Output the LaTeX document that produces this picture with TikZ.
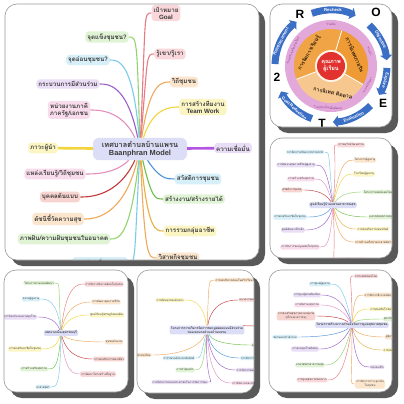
\documentclass[tikz,border=0pt]{standalone}
\usepackage{fontspec}
\setmainfont{Liberation Sans}
\newfontfamily\thai[Script=Thai]{Loma}
\usetikzlibrary{arrows.meta}
\definecolor{shadowc}{HTML}{595959}
\definecolor{cardline}{HTML}{9A9A9A}
\definecolor{txt}{HTML}{3A3A3A}
\definecolor{centerF}{HTML}{DCDDF6}
\definecolor{pinkF}{HTML}{F9D7DA}
\definecolor{pinkL}{HTML}{E57B84}
\definecolor{greenF}{HTML}{E0F3D5}
\definecolor{greenL}{HTML}{93D46E}
\definecolor{greenL2}{HTML}{6CC04A}
\definecolor{blueF}{HTML}{D7EFF8}
\definecolor{blueL}{HTML}{7CCBE8}
\definecolor{blueL2}{HTML}{4D93DB}
\definecolor{peachF}{HTML}{FBE5CC}
\definecolor{orangeL}{HTML}{F0A85C}
\definecolor{orangeL2}{HTML}{E8B040}
\definecolor{lavF}{HTML}{EADDF6}
\definecolor{purpL}{HTML}{9B5FCB}
\definecolor{purpL2}{HTML}{B455E0}
\definecolor{yellF}{HTML}{FBF5C4}
\definecolor{yellL}{HTML}{F2D53C}
\definecolor{roseF}{HTML}{F9DCEB}
\definecolor{roseL}{HTML}{E390BE}
\definecolor{redF}{HTML}{F8D4D0}
\definecolor{redL}{HTML}{C43A3A}
\definecolor{bluec}{HTML}{3B6FC6}
\definecolor{ringpink}{HTML}{E2A8DA}
\definecolor{orA}{HTML}{F0A445}
\definecolor{orB}{HTML}{EE9A35}
\definecolor{orC}{HTML}{F6C78E}
\definecolor{redc}{HTML}{E2322F}
\definecolor{ringtxt}{HTML}{8B3D8B}
\newcommand\latn[1]{{\rmfamily #1}}
\newcommand\mkcard[4]{\fill[shad] (#1+6,#2+6) rectangle (#3+6,#4+6); \fill[cardf] (#1,#2) rectangle (#3,#4);}
\newcommand\mkborder[4]{\draw[cardb] (#1,#2) rectangle (#3,#4);}
\begin{document}
\begin{tikzpicture}[x=1pt,y=-1pt,
  shad/.style={fill=shadowc, rounded corners=12pt},
  cardf/.style={fill=white, rounded corners=12pt},
  cardb/.style={draw=cardline, line width=0.6pt, rounded corners=12pt},
  cnode/.style={fill=centerF, rounded corners=6pt, inner sep=3pt, align=center, text=txt, font=\thai\bfseries\fontsize{7.4}{8.6}\selectfont},
  mb/.style={rounded corners=3.5pt, inner sep=2pt, align=center, text=txt, font=\thai\bfseries\fontsize{6.2}{7}\selectfont},
  ml/.style={line width=1.1pt},
  scn/.style={fill=centerF, rounded corners=2pt, inner sep=1.2pt, align=center, text=txt, font=\thai\bfseries\fontsize{3.2}{3.7}\selectfont},
  sb/.style={rounded corners=1.5pt, inner sep=0.9pt, align=center, text=txt, font=\thai\fontsize{2.8}{3.2}\selectfont},
  sl/.style={line width=0.45pt},
  barr/.style={draw=bluec, line width=7pt, -{Triangle[length=5pt,width=12pt]}},
  blab/.style={text=white, font=\bfseries\fontsize{4.3}{5}\selectfont, inner sep=0},
  letr/.style={text=black, font=\bfseries\fontsize{12}{12}\selectfont, inner sep=0},
  rlab/.style={text=ringtxt, font=\thai\fontsize{3}{3.4}\selectfont, inner sep=0},
  slab/.style={text=black!80!brown, font=\thai\bfseries\fontsize{5.3}{6}\selectfont, inner sep=0}]
\useasboundingbox[fill=white] (0,0) rectangle (404,404);

% ================= Panel A =================
\mkcard{5}{4}{259}{260}
\begin{scope}
\clip[rounded corners=12pt] (5,4) rectangle (259,260);
\node[cnode, minimum width=94pt, minimum height=22pt] (c0) at (140,149) {เทศบาลตำบลบ้านแพรน\\\latn{Baanphran Model}};
\foreach \nm/\px/\py/\fc/\lc/\an/\dd/\sx/\tx in {
 m1/166/13/pinkF/pinkL/west/-8/146/{เป้าหมาย\\\latn{Goal}},
 m2/107/37/greenF/greenL/east/8/137/{จุดแข็งชุมชน?},
 m3/170/54/pinkF/pinkL/west/-8/148/{รู้เขา/รู้เรา},
 m4/88/60/blueF/blueL/east/8/133/{จุดอ่อนชุมชน?},
 m5/184/82/peachF/orangeL/west/-8/150/{วิถีชุมชน},
 m6/68/84/lavF/purpL/east/8/127/{กระบวนการมีส่วนร่วม},
 m7/203/107/yellF/yellL/west/-8/153/{การสร้างทีมงาน\\\latn{Team Work}},
 m8/69/110/roseF/roseL/east/8/122/{หน่วยงานภาคี\\ภาครัฐ/เอกชน},
 m11/55/174/roseF/roseL/east/8/115/{แหล่งเรียนรู้/วิถีชุมชน},
 m12/198/179/blueF/blueL2/west/-8/160/{สวัสดิการชุมชน},
 m13/60/197/redF/redL/east/8/118/{บุคคลต้นแบบ},
 m14/194/199/greenF/greenL2/west/-8/152/{สร้างงาน/สร้างรายได้},
 m15/58/219/peachF/orangeL/east/8/123/{ดัชนีชี้วัดความสุข},
 m16/190/231/yellF/orangeL2/west/-8/148/{การรวมกลุ่มอาชีพ},
 m17/64/239/greenF/greenL/east/8/130/{ภาพฝัน/ความฝันชุมชนในอนาคต},
 m18/178/258/peachF/orangeL/west/-8/145/{วิสาหกิจชุมชน},
 m19/100/263/blueF/blueL/east/8/134/{การท่องเที่ยวชุมชน}}{
  \node[mb, fill=\fc] (\nm) at (\px,\py) {\tx};
  \draw[ml, draw=\lc] (c0) .. controls (\sx,\py) and +(\dd,0) .. (\nm.\an);
}
\node[mb, fill=yellF] (m9) at (43,148) {ภาวะผู้นำ};
\node[mb, fill=lavF] (m10) at (233,148) {ความเชื่อมั่น};
\draw[yellL, line width=2.6pt] (c0) -- (m9);
\draw[purpL2, line width=2.6pt] (c0) -- (m10);
\end{scope}
\mkborder{5}{4}{259}{260}

% ================= Panel B =================
\mkcard{270}{4}{392}{127}
\begin{scope}
\clip[rounded corners=12pt] (270,4) rectangle (392,127);
\begin{scope}[shift={(331,66)}, y=1pt]
 \fill[ringpink] (0,0) circle (46);
 \fill[orA] (0,0) -- (73:37) arc[start angle=73, end angle=201, radius=37] -- cycle;
 \fill[orB] (0,0) -- (-30:37) arc[start angle=-30, end angle=73, radius=37] -- cycle;
 \fill[orC] (0,0) -- (201:37) arc[start angle=201, end angle=330, radius=37] -- cycle;
 \draw[white, line width=0.8pt] (0,0) -- (73:37) (0,0) -- (-30:37) (0,0) -- (201:37);
 \fill[white!80!orC] (0,0) circle (16);
 \node[circle, fill=redc, minimum size=28pt, inner sep=0pt, text=white, align=center, font=\thai\bfseries\fontsize{5.6}{6.4}\selectfont] (q) at (0,0) {คุณภาพ\\ผู้เรียน};
 \node[slab, rotate=60] (s1) at (-22,13) {การจัดการเรียนรู้};
 \node[slab, rotate=-66] (s2) at (24,11) {การนิเทศภายใน};
 \node[slab, rotate=-12] (s3) at (2,-27) {การนิเทศ ติดตาม};
 \node[rlab] (r1) at (90:41.5) {ร่วมคิด};
 \node[rlab, rotate=-69] (r2) at (21:41.5) {ร่วมทำ};
 \node[rlab, rotate=62] (r3) at (-28:41.5) {ร่วมแก้ปัญหา};
 \node[rlab, rotate=-4] (r4) at (-94:41.5) {ร่วมประเมินเพื่อพัฒนา};
 \node[rlab, rotate=68] (r5) at (158:41.5) {ร่วมสร้างเครือข่ายใหม่};
 \draw[barr] (110:56) arc[start angle=110, end angle=64, radius=56];
 \draw[barr] (47:56) arc[start angle=47, end angle=6, radius=56];
 \draw[barr] (-2:56) arc[start angle=-2, end angle=-31, radius=56];
 \draw[barr] (-45:56) arc[start angle=-45, end angle=-88, radius=56];
 \draw[barr] (-110:56) arc[start angle=-110, end angle=-153, radius=56];
 \draw[barr] (-182:56) arc[start angle=-182, end angle=-232, radius=56];
 \node[blab] (b1) at (88:56) {Recheck};
 \node[blab, rotate=-62] (b2) at (28:56) {Objective};
 \node[blab, rotate=-105] (b3) at (-15:56) {Explore};
 \node[blab, rotate=23] (b4) at (-66:56) {Evaluation};
 \node[blab, rotate=-42] (b5) at (-131:56) {Goal Reduction};
 \node[blab, rotate=64] (b6) at (154:56) {Reinforcement};
 \node[letr] (lR) at (-31,52) {R};
 \node[letr] (lO) at (45,54) {O};
 \node[letr] (lE) at (52,-37) {E};
 \node[letr] (lT) at (-9,-57) {T};
 \node[letr] (l2) at (-54,-11) {2};
\end{scope}
\end{scope}
\mkborder{270}{4}{392}{127}

% ================= Panel C =================
\mkcard{270}{138}{392}{258}
\begin{scope}
\clip[rounded corners=12pt] (270,138) rectangle (392,258);
\node[scn] (cC) at (333,205) {ศูนย์เรียนรู้บ้านแพรนสาธารณสุข};
\foreach \nm/\px/\py/\fc/\lc/\an/\dd/\sx/\tx in {
 c1/305/152/blueF/blueL/east/6/328/{การจัดการทรัพยากรธรรมชาติ},
 c2/296/165/lavF/purpL/east/6/326/{การพัฒนาคุณภาพชีวิตผู้สูงอายุ},
 c3/301/179/roseF/roseL/east/6/325/{การสร้างเสริมสุขภาพ},
 c4/292/190/redF/redL/east/6/324/{สวัสดิการชุมชน},
 c5/290/217/blueF/blueL2/east/6/325/{การส่งเสริมอาชีพในชุมชน},
 c6/293/230/lavF/purpL/east/6/327/{ศูนย์พัฒนาเด็กเล็ก},
 c7/300/247/roseF/roseL/east/6/330/{การจัดการขยะมูลฝอยในชุมชน},
 c8/351/145/pinkF/pinkL/west/-6/338/{การอนุรักษ์วัฒนธรรม},
 c9/365/160/peachF/orangeL/west/-6/340/{โครงการผู้สูงอายุ},
 c10/364/174/yellF/yellL/west/-6/341/{โรงเรียนผู้สูงอายุ},
 c11/378/192/greenF/greenL/west/-6/342/{โครงการแพทย์แผนไทย},
 c12/383/217/greenF/greenL2/west/-6/342/{ตลาดนัดสุขภาพชุมชน},
 c13/373/229/yellF/orangeL2/west/-6/340/{การส่งเสริมการออมทรัพย์},
 c14/373/242/peachF/orangeL/west/-6/338/{การสร้างเครือข่ายอาสาสมัคร},
 c15/352/260/pinkF/pinkL/west/-6/336/{อาสาสมัครสาธารณสุข}}{
  \node[sb, fill=\fc] (\nm) at (\px,\py) {\tx};
  \draw[sl, draw=\lc] (cC) .. controls (\sx,\py) and +(\dd,0) .. (\nm.\an);
}
\end{scope}
\mkborder{270}{138}{392}{258}

% ================= Panel D =================
\mkcard{4}{270}{128}{392}
\begin{scope}
\clip[rounded corners=12pt] (4,270) rectangle (128,392);
\node[scn] (cD) at (61,333) {เทศบาลเมืองสุพรรณบุรี};
\foreach \nm/\px/\py/\fc/\lc/\an/\dd/\sx/\tx in {
 d1/39/283/greenF/greenL/east/6/58/{โครงการตามแผนพัฒนา},
 d2/31/299/blueF/blueL/east/6/57/{ชมรมผู้สูงอายุ},
 d3/20/317/lavF/purpL/east/6/55/{การป้องกันและควบคุมโรค},
 d4/25/349/yellF/yellL/east/6/56/{การส่งเสริมอาชีพในชุมชน},
 d5/34/369/greenF/greenL2/east/6/58/{การสร้างเสริมสุขภาพ},
 d6/43/387/blueF/blueL/east/6/60/{อาสาสมัคร},
 d7/104/284/pinkF/pinkL/west/-6/66/{การจัดการสิ่งแวดล้อมในชุมชน},
 d8/106/302/peachF/orangeL/west/-6/67/{การพัฒนาคุณภาพชีวิต},
 d9/107/315/yellF/yellL/west/-6/68/{ศูนย์เรียนรู้เศรษฐกิจพอเพียง},
 d10/114/342/peachF/orangeL/west/-6/70/{ชุมชนต้นแบบ},
 d11/109/359/redF/redL/west/-6/68/{การส่งเสริมการท่องเที่ยว},
 d12/98/374/pinkF/roseL/west/-6/65/{การพัฒนาโครงสร้างพื้นฐาน}}{
  \node[sb, fill=\fc] (\nm) at (\px,\py) {\tx};
  \draw[sl, draw=\lc] (cD) .. controls (\sx,\py) and +(\dd,0) .. (\nm.\an);
}
\end{scope}
\mkborder{4}{270}{128}{392}

% ================= Panel E =================
\mkcard{137}{270}{254}{393}
\begin{scope}
\clip[rounded corners=12pt] (137,270) rectangle (254,393);
\node[scn] (cE) at (207,330) {โครงการการบริหารจัดการขยะมูลฝอยแบบมีส่วนร่วม\\ของเทศบาลตำบลบ้านแพรน};
\foreach \nm/\px/\py/\fc/\lc/\an/\dd/\sx/\tx in {
 e1/234/280/peachF/orangeL/west/-6/209/{การลดปริมาณขยะในครัวเรือน},
 e2/170/300/yellF/yellL/east/6/203/{การคัดแยกขยะต้นทาง},
 e3/247/300/redF/redL/west/-6/212/{ธนาคารขยะ},
 e4/140/355/peachF/orangeL/east/6/196/{การจัดทำทะเบียน},
 e5/179/358/blueF/blueL/east/6/200/{การรณรงค์ประชาสัมพันธ์},
 e6/185/370/greenF/greenL/east/6/203/{การทำปุ๋ยหมัก},
 e7/180/382/lavF/purpL/east/6/205/{การมีส่วนร่วมของประชาชนในการจัดการขยะ},
 e8/262/345/greenF/greenL2/west/-6/214/{ตลาดนัดรีไซเคิล},
 e9/255/358/blueF/blueL2/west/-6/213/{การจัดการขยะอันตราย},
 e10/250/370/lavF/purpL/west/-6/212/{การจัดการขยะอินทรีย์},
 e11/248/383/roseF/roseL/west/-6/210/{การติดตามและประเมินผล},
 e12/280/326/redF/redL/west/-6/240/{เครือข่ายชุมชน}}{
  \node[sb, fill=\fc] (\nm) at (\px,\py) {\tx};
  \draw[sl, draw=\lc] (cE) .. controls (\sx,\py) and +(\dd,0) .. (\nm.\an);
}
\end{scope}
\mkborder{137}{270}{254}{393}

% ================= Panel F =================
\mkcard{269}{270}{392}{392}
\begin{scope}
\clip[rounded corners=12pt] (269,270) rectangle (392,392);
\node[scn] (cF) at (352,325) {โครงการสร้างความร่วมมือในการดูแลสุขภาพชุมชน};
\foreach \nm/\px/\py/\fc/\lc/\an/\dd/\sx/\tx in {
 f1/320/284/blueF/blueL/east/6/343/{การดูแลผู้สูงอายุ},
 f2/307/295/lavF/purpL/east/6/342/{การดูแลผู้ป่วยติดเตียง},
 f3/307/305/roseF/roseL/east/6/341/{การคัดกรองสุขภาพ},
 f4/296/316/redF/redL/east/6/340/{การส่งเสริมสุขภาพตามกลุ่มวัย\\(เด็กและเยาวชน)},
 f5/285/337/blueF/blueL2/east/6/338/{ชมรมออกกำลังกาย},
 f6/305/349/lavF/purpL/east/6/340/{การควบคุมโรคติดต่อ},
 f7/310/365/greenF/greenL/east/6/342/{อาสาสมัครสาธารณสุข},
 f8/312/380/pinkF/pinkL/east/6/344/{การดูแลสุขภาพช่องปาก},
 f9/366/276/pinkF/pinkL/west/-6/352/{การแพทย์แผนไทย},
 f10/378/295/peachF/orangeL/west/-6/354/{การจัดการสิ่งแวดล้อม},
 f11/384/309/yellF/yellL/west/-6/356/{การส่งเสริมโภชนาการ},
 f12/394/319/greenF/greenL/west/-6/358/{สุขาภิบาลอาหาร},
 f13/390/337/peachF/orangeL/west/-6/358/{ผู้พิการ},
 f14/392/350/yellF/orangeL2/west/-6/357/{การออมทรัพย์},
 f15/377/367/lavF/purpL/west/-6/355/{แม่และเด็ก},
 f16/370/384/peachF/orangeL/west/-6/352/{การจัดการภาวะฉุกเฉิน\\ในชุมชน}}{
  \node[sb, fill=\fc] (\nm) at (\px,\py) {\tx};
  \draw[sl, draw=\lc] (cF) .. controls (\sx,\py) and +(\dd,0) .. (\nm.\an);
}
\end{scope}
\mkborder{269}{270}{392}{392}
\end{tikzpicture}
\end{document}
